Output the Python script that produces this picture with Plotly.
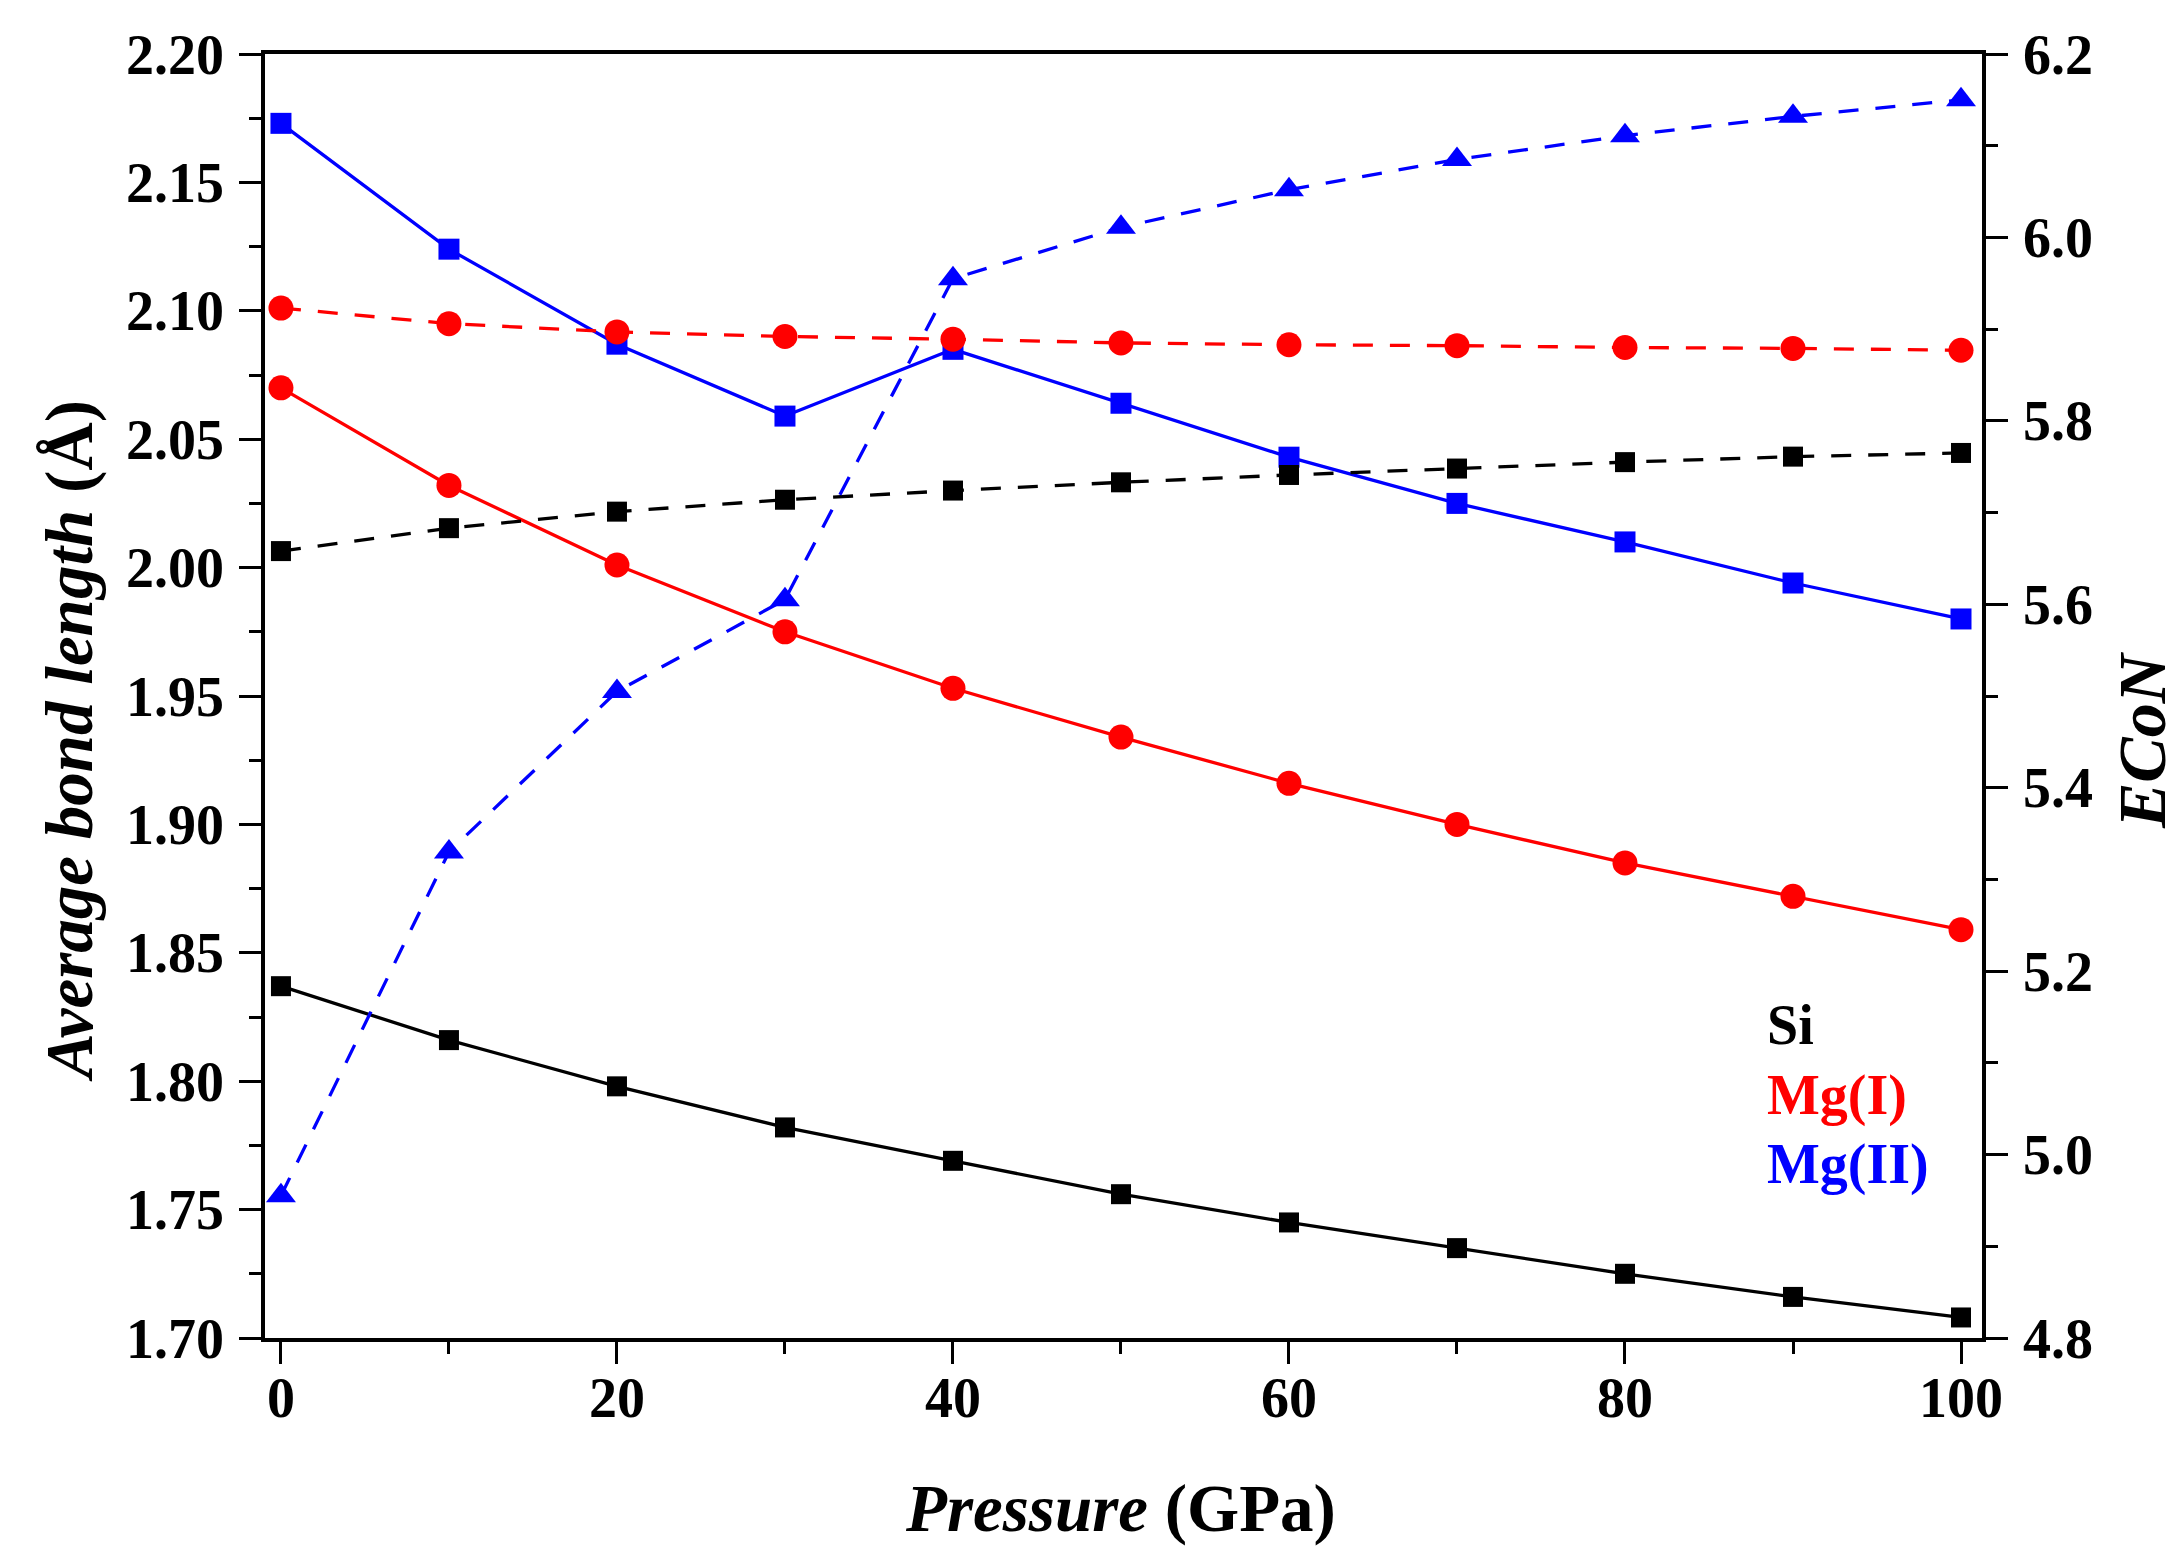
import plotly.graph_objects as go

pressure = [0, 10, 20, 30, 40, 50, 60, 70, 80, 90, 100]

# Average bond length (Å), left axis
bond_si = [1.837, 1.816, 1.798, 1.782, 1.769, 1.756, 1.745, 1.735, 1.725, 1.716, 1.708]
bond_mg1 = [2.070, 2.032, 2.001, 1.975, 1.953, 1.934, 1.916, 1.900, 1.885, 1.872, 1.859]
bond_mg2 = [2.173, 2.124, 2.087, 2.059, 2.085, 2.064, 2.043, 2.025, 2.010, 1.994, 1.980]

# ECoN, right axis
econ_si = [5.658, 5.683, 5.701, 5.714, 5.724, 5.733, 5.741, 5.748, 5.755, 5.761, 5.765]
econ_mg1 = [5.923, 5.906, 5.897, 5.892, 5.889, 5.885, 5.883, 5.882, 5.880, 5.879, 5.877]
econ_mg2 = [4.955, 5.330, 5.505, 5.605, 5.955, 6.011, 6.052, 6.085, 6.111, 6.132, 6.150]

legend_labels = ["Si", "Mg(I)", "Mg(II)"]
colors = ["#000000", "#ff0000", "#0000ff"]

FONT = "Liberation Serif"
LW = 3.3
DASH = "20px,17px"

W, H = 2179, 1558
L, R, T, B = 257, 205, 46, 228
PW, PH = W - L - R, H - T - B

def px_x(px):
    return (px - L) / PW

def px_y(py):
    return 1 - (py - T) / PH

fig = go.Figure()

def add(y, color, symbol, size, dash, axis):
    fig.add_trace(go.Scatter(
        x=pressure, y=y, mode="lines+markers", yaxis=axis,
        line=dict(color=color, width=LW, dash=dash),
        marker=dict(color=color, symbol=symbol, size=size, line=dict(width=0)),
        showlegend=False))

add(bond_si, colors[0], "square", 20, "solid", "y")
add(bond_mg1, colors[1], "circle", 25, "solid", "y")
add(bond_mg2, colors[2], "square", 21, "solid", "y")
add(econ_si, colors[0], "square", 20, DASH, "y2")
add(econ_mg1, colors[1], "circle", 25, DASH, "y2")
add(econ_mg2, colors[2], "triangle-up", 26, DASH, "y2")

tickfont = dict(family=FONT, size=56, color="black", weight="bold")
axis_common = dict(
    showgrid=False, zeroline=False, showline=True, linecolor="black", linewidth=3.5,
    ticks="outside", ticklen=22, tickwidth=3.4, tickcolor="black",
    tickfont=tickfont,
)
minor_common = dict(ticks="outside", ticklen=12, tickwidth=3.4, tickcolor="black")

fig.update_layout(
    width=W, height=H,
    margin=dict(l=L, r=R, t=T, b=B),
    paper_bgcolor="white", plot_bgcolor="white",
    xaxis=dict(
        range=[-0.95, 101.25], tick0=0, dtick=20, mirror=True,
        minor=dict(dtick=10, **minor_common),
        ticklabelstandoff=-14,
        **axis_common),
    yaxis=dict(
        range=[1.70, 2.20], tick0=1.70, dtick=0.05, tickformat=".2f",
        minor=dict(dtick=0.025, **minor_common),
        ticklabelstandoff=4,
        **axis_common),
    yaxis2=dict(
        range=[4.8, 6.2], tick0=4.8, dtick=0.2, tickformat=".1f",
        overlaying="y", side="right",
        minor=dict(dtick=0.1, **minor_common),
        ticklabelstandoff=4,
        **axis_common),
)

# Axis titles
fig.add_annotation(
    text="<b><i>Pressure</i> (GPa)</b>", xref="paper", yref="paper",
    x=px_x(1112), y=px_y(1500), xanchor="center", yanchor="middle", showarrow=False,
    font=dict(family=FONT, size=67, color="black"))
fig.add_annotation(
    text="<b><i>Average bond length</i> (Å)</b>", xref="paper", yref="paper",
    x=px_x(61), y=px_y(733), xanchor="center", yanchor="middle", showarrow=False,
    textangle=-90, font=dict(family=FONT, size=67, color="black"))
fig.add_annotation(
    text="<b><i>ECoN</i></b>", xref="paper", yref="paper",
    x=px_x(2134), y=px_y(732), xanchor="center", yanchor="middle", showarrow=False,
    textangle=-90, font=dict(family=FONT, size=68, color="black"))

# Text legend
for lab, col, yy in zip(legend_labels, colors, [1017, 1087, 1156]):
    fig.add_annotation(
        text="<b>%s</b>" % lab, xref="paper", yref="paper",
        x=px_x(1757), y=px_y(yy),
        xanchor="left", yanchor="middle", showarrow=False,
        font=dict(family=FONT, size=56, color=col))

fig.write_html("out.html")
